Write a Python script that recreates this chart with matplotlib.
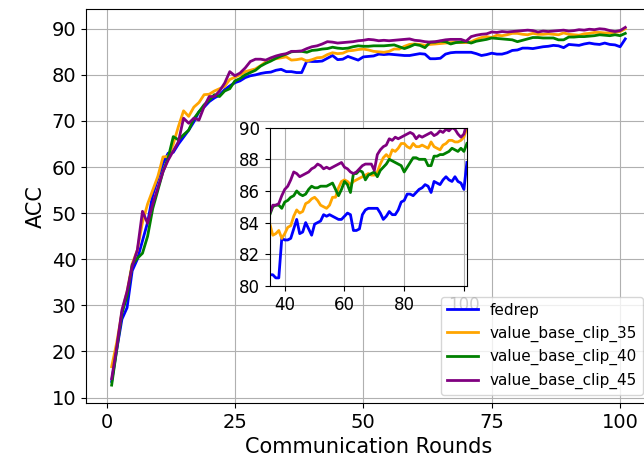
import matplotlib
matplotlib.use("Agg")
import matplotlib.pyplot as plt
import numpy as np

rounds = list(range(1, 102))

fedrep = [13.5, 20.5, 27.0, 29.5, 37.5, 40.0, 44.0, 48.0, 54.0, 57.5,
          60.8, 63.0, 63.2, 65.0, 66.5, 68.0, 69.8, 72.0, 73.0, 74.2,
          75.0, 75.6, 76.8, 77.6, 78.3, 78.7, 79.4, 79.8, 80.0, 80.3,
          80.5, 80.6, 81.0, 81.2, 80.7, 80.7, 80.5, 80.5, 83.0, 82.9,
          82.9, 83.0, 83.6, 84.2, 83.3, 83.4, 84.0, 83.6, 83.2, 83.9,
          84.0, 84.1, 84.5, 84.4, 84.5, 84.4, 84.3, 84.2, 84.2, 84.4,
          84.6, 84.5, 83.5, 83.5, 83.6, 84.5, 84.8, 84.9, 84.9, 84.9,
          84.9, 84.6, 84.2, 84.4, 84.7, 84.5, 84.5, 84.8, 85.3, 85.4,
          85.8, 85.8, 85.7, 85.9, 86.1, 86.2, 86.4, 86.3, 85.9, 86.6,
          86.5, 86.4, 86.7, 86.9, 86.7, 86.6, 86.9, 86.6, 86.5, 86.1,
          87.8]

clip_35 = [16.7, 22.0, 28.5, 33.0, 39.0, 42.0, 48.0, 52.0, 55.0, 58.0,
           62.2, 62.3, 65.0, 68.8, 72.2, 71.0, 73.0, 74.0, 75.7, 75.8,
           76.5, 77.0, 77.5, 79.0, 79.5, 80.0, 80.7, 81.0, 81.3, 82.0,
           82.8, 83.3, 83.5, 83.7, 83.9, 83.2, 83.3, 83.5, 83.0, 83.3,
           83.7, 83.8, 84.4, 84.8, 84.6, 84.7, 85.2, 85.3, 85.5, 85.6,
           85.4, 85.1, 85.0, 84.9, 85.1, 85.6, 85.6, 86.2, 86.6, 86.7,
           86.6, 86.4, 86.6, 86.7, 86.8, 86.9, 87.0, 87.1, 87.0, 87.0,
           87.2, 87.7, 88.1, 88.3, 88.1, 88.6, 88.5, 88.7, 89.0, 89.0,
           88.8, 88.7, 89.0, 88.8, 88.8, 88.9, 88.8, 88.7, 89.1, 88.8,
           88.7, 88.6, 88.9, 89.0, 89.2, 89.2, 89.1, 89.1, 89.2, 89.4,
           90.0]

clip_40 = [12.7, 20.5, 28.3, 32.0, 38.8, 40.2, 41.3, 45.0, 51.0, 55.0,
           59.0, 62.0, 66.6, 65.9, 67.0, 68.0, 70.5, 72.0, 73.5, 74.5,
           75.7, 75.3, 76.5, 77.0, 78.7, 79.2, 80.0, 80.5, 81.0, 81.9,
           82.5, 83.0, 83.6, 84.1, 84.5, 85.0, 85.1, 85.1, 84.9, 85.3,
           85.4, 85.6, 85.7, 86.0, 85.8, 85.7, 85.8, 86.1, 86.3, 86.2,
           86.2, 86.3, 86.3, 86.3, 86.4, 86.5, 86.1, 85.7, 86.1, 86.6,
           86.4, 85.9, 87.1, 87.1, 87.3, 87.2, 86.7, 87.0, 87.1, 87.2,
           86.9, 87.3, 87.5, 87.7, 88.0, 87.9, 87.8, 87.7, 87.6, 87.2,
           87.5, 87.8, 88.1, 88.1, 88.0, 88.0, 88.0, 87.6, 87.6, 88.2,
           88.2, 88.3, 88.3, 88.4, 88.5, 88.7, 88.6, 88.5, 88.7, 88.5,
           89.0]

clip_45 = [14.1, 21.0, 29.0, 33.0, 38.5, 42.0, 50.4, 47.8, 52.0, 55.5,
           59.0, 61.5, 63.5, 65.5, 70.6, 69.5, 70.6, 70.2, 73.1, 75.3,
           75.3, 76.5, 78.2, 80.7, 79.8, 80.4, 81.5, 82.9, 83.4, 83.4,
           83.2, 83.7, 84.1, 84.4, 84.6, 85.1, 85.1, 85.2, 85.7, 86.1,
           86.3, 86.7, 87.2, 87.1, 86.9, 87.0, 87.1, 87.2, 87.4, 87.5,
           87.7, 87.6, 87.4, 87.5, 87.4, 87.5, 87.6, 87.7, 87.8, 87.5,
           87.4, 87.2, 87.1, 87.2, 87.4, 87.6, 87.7, 87.7, 87.7, 87.3,
           88.3, 88.6, 88.8, 88.9, 89.3, 89.2, 89.4, 89.3, 89.4, 89.5,
           89.6, 89.7, 89.6, 89.3, 89.5, 89.4, 89.5, 89.6, 89.7, 89.5,
           89.6, 89.8, 89.7, 89.9, 89.8, 90.0, 89.9, 89.6, 89.4, 89.6,
           90.3]

labels = ["fedrep", "value_base_clip_35", "value_base_clip_40", "value_base_clip_45"]
colors = ["blue", "orange", "green", "purple"]
series = [fedrep, clip_35, clip_40, clip_45]
main_xticks = [0, 25, 50, 75, 100]
main_yticks = [10, 20, 30, 40, 50, 60, 70, 80, 90]
inset_xticks = [40, 60, 80, 100]
inset_yticks = [80, 82, 84, 86, 88, 90]

fig = plt.figure(figsize=(6.44, 4.61), dpi=100)
ax = fig.add_axes([0.1335, 0.1258, 0.8773, 0.8536])
handles = []
for s, c, l in zip(series, colors, labels):
    h, = ax.plot(rounds, s, color=c, lw=2, label=l)
    handles.append(h)
ax.set_xticks(main_xticks)
ax.set_yticks(main_yticks)
ax.grid(True)
ax.set_xlabel("Communication Rounds", fontsize=15)
ax.set_ylabel("ACC", fontsize=15)
ax.tick_params(labelsize=14)

axins = fig.add_axes([0.419, 0.380, 0.306, 0.343])
for s, c in zip(series, colors):
    axins.plot(rounds, s, color=c, lw=2)
axins.set_xlim(35, 101)
axins.set_ylim(80, 90)
axins.set_xticks(inset_xticks)
axins.set_yticks(inset_yticks)
axins.grid(True)
axins.tick_params(labelsize=12)

fig.legend(handles, labels, loc="lower right", bbox_to_anchor=(1, 0),
           bbox_transform=ax.transAxes, fontsize=11)

fig.savefig("out.png", dpi=100)
